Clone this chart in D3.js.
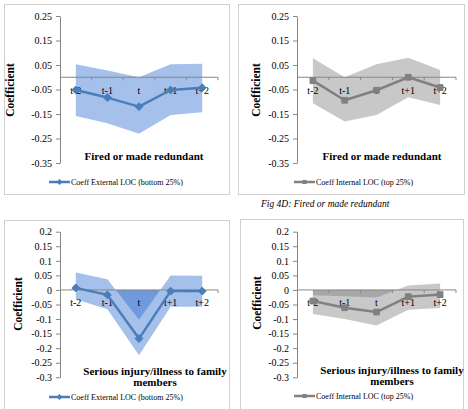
<!DOCTYPE html>
<html>
<head>
<meta charset="utf-8">
<script src="https://cdn.jsdelivr.net/npm/d3@7"></script>
<style>
  html, body { margin: 0; padding: 0; background: #ffffff; }
  svg { display: block; }
  text { font-family: "Liberation Serif", "Times New Roman", serif; fill: #000; }
</style>
</head>
<body>
<svg id="chart" width="468" height="409"></svg>
<script>
// ---------- data ----------
const categories = ["t-2", "t-1", "t", "t+1", "t+2"];

const topTicks = [0.25, 0.15, 0.05, -0.05, -0.15, -0.25, -0.35];
const topTickLabels = ["0.25", "0.15", "0.05", "-0.05", "-0.15", "-0.25", "-0.35"];
const bottomTicks = [0.2, 0.15, 0.1, 0.05, 0, -0.05, -0.1, -0.15, -0.2, -0.25, -0.3];
const bottomTickLabels = ["0.2", "0.15", "0.1", "0.05", "0", "-0.05", "-0.1", "-0.15", "-0.2", "-0.25", "-0.3"];

// Fired or made redundant — External LOC (bottom 25%)
const firedExtCoef  = [-0.052, -0.083, -0.120, -0.052, -0.043];
const firedExtUpper = [ 0.053,  0.028,  0.000,  0.053,  0.055];
const firedExtLower = [-0.158, -0.188, -0.231, -0.154, -0.143];
// Fired or made redundant — Internal LOC (top 25%)
const firedIntCoef  = [-0.014, -0.094, -0.053,  0.000, -0.042];
const firedIntUpper = [ 0.078,  0.000,  0.053,  0.080,  0.030];
const firedIntLower = [-0.106, -0.181, -0.154, -0.082, -0.113];
// Serious injury/illness to family members — External LOC
const illExtCoef  = [ 0.007, -0.017, -0.167, -0.004, -0.004];
const illExtUpper = [ 0.060,  0.037, -0.102,  0.050,  0.049];
const illExtLower = [-0.032, -0.066, -0.224, -0.058, -0.058];
// Serious injury/illness to family members — Internal LOC
const illIntCoef  = [-0.038, -0.061, -0.076, -0.023, -0.016];
const illIntUpper = [-0.018, -0.022, -0.026,  0.015,  0.022];
const illIntLower = [-0.083, -0.100, -0.122, -0.068, -0.062];

const titles = ["Fired or made redundant", "Serious injury/illness to family", "members"];
const legendExt = "Coeff External LOC (bottom 25%)";
const legendInt = "Coeff Internal LOC (top 25%)";
const caption = "Fig 4D: Fired or made redundant";
const yTitle = "Coefficient";

// ---------- drawing ----------
const svg = d3.select("#chart");

const blue = { fill: "rgb(30,98,203)", op: 0.4, line: "#4a7ebb", marker: "diamond" };
const gray = { fill: "rgb(118,118,118)", op: 0.4, line: "#808080", marker: "square" };

function panel(cfg) {
  const g = svg.append("g");
  // border
  g.append("rect")
    .attr("x", cfg.box[0] + 0.5).attr("y", cfg.box[1] + 0.5)
    .attr("width", cfg.box[2] - cfg.box[0]).attr("height", cfg.box[3] - cfg.box[1])
    .attr("fill", "none").attr("stroke", "#d0d0d0").attr("stroke-width", 1);

  const x = d3.scaleBand().domain(categories).range(cfg.xr);
  const y = d3.scaleLinear().domain(cfg.ydom).range(cfg.yr);
  const cx = c => x(c) + x.bandwidth() / 2;

  // shaded bands (two areas from zero, semi-transparent, overlap darker)
  [cfg.upper, cfg.lower].forEach(arr => {
    const area = d3.area()
      .x((d, i) => cx(categories[i]))
      .y0(y(0))
      .y1(d => y(d));
    g.append("path").datum(arr)
      .attr("d", area)
      .attr("fill", cfg.style.fill)
      .attr("fill-opacity", cfg.style.op);
  });

  // y axis
  const yAxis = d3.axisLeft(y).tickValues(cfg.ticks)
    .tickFormat((d, i) => cfg.tickLabels[i]).tickSize(4).tickSizeOuter(0);
  const ya = g.append("g").attr("transform", `translate(${cfg.xr[0]},0)`).call(yAxis);
  ya.attr("font-family", null);
  ya.select(".domain").attr("stroke", "#868686");
  ya.selectAll(".tick line").attr("stroke", "#868686");
  ya.selectAll(".tick text").attr("font-size", 10).attr("x", -8);

  // x axis at zero
  const xa = g.append("g").attr("transform", `translate(0,${y(0)})`);
  xa.append("line").attr("x1", cfg.xr[0]).attr("x2", cfg.xr[1])
    .attr("stroke", "#868686").attr("stroke-width", 1);
  const bounds = categories.map(c => x(c) + x.bandwidth());
  xa.selectAll(".xt").data(bounds).enter().append("line")
    .attr("x1", d => d).attr("x2", d => d).attr("y1", 0).attr("y2", 3)
    .attr("stroke", "#868686");
  xa.selectAll(".xl").data(categories).enter().append("text")
    .attr("x", d => cx(d)).attr("y", 16.5)
    .attr("text-anchor", "middle").attr("font-size", 10)
    .text(d => d);

  // line
  const line = d3.line().x((d, i) => cx(categories[i])).y(d => y(d));
  g.append("path").datum(cfg.coef).attr("d", line)
    .attr("fill", "none").attr("stroke", cfg.style.line).attr("stroke-width", 2.5)
    .attr("stroke-linejoin", "round");
  const sym = cfg.style.marker === "diamond"
    ? d3.symbol().type(d3.symbolDiamond2).size(40)
    : d3.symbol().type(d3.symbolSquare2).size(42);
  g.selectAll(".mk").data(cfg.coef).enter().append("path")
    .attr("d", sym)
    .attr("transform", (d, i) => `translate(${cx(categories[i])},${y(d)})`)
    .attr("fill", cfg.style.line).attr("stroke", cfg.style.line).attr("stroke-width", 1);

  // y title
  g.append("text")
    .attr("transform", `translate(${cfg.ytitle[0]},${cfg.ytitle[1]}) rotate(-90)`)
    .attr("text-anchor", "middle").attr("font-size", 11.5).attr("font-weight", "bold")
    .text(yTitle);

  // chart title
  cfg.title.forEach((t, i) => {
    g.append("text").attr("x", cfg.titlePos[0]).attr("y", cfg.titlePos[1] + i * 10.5)
      .attr("text-anchor", "middle").attr("font-size", 11).attr("font-weight", "bold")
      .text(t);
  });

  // legend
  const [lx, ly] = cfg.legend;
  g.append("line").attr("x1", lx).attr("x2", lx + 21).attr("y1", ly).attr("y2", ly)
    .attr("stroke", cfg.style.line).attr("stroke-width", 2.5);
  g.append("path").attr("d", cfg.style.marker === "diamond"
      ? d3.symbol().type(d3.symbolDiamond2).size(22)()
      : d3.symbol().type(d3.symbolSquare2).size(22)())
    .attr("transform", `translate(${lx + 10.5},${ly})`)
    .attr("fill", cfg.style.line);
  g.append("text").attr("x", lx + 22).attr("y", ly + 3)
    .attr("font-size", 8).text(cfg.legendText);
}

panel({
  box: [4, 4, 229, 194], xr: [60, 218], ydom: [-0.35, 0.25], yr: [163, 16],
  ticks: topTicks, tickLabels: topTickLabels,
  coef: firedExtCoef, upper: firedExtUpper, lower: firedExtLower, style: blue,
  ytitle: [14, 90], title: [titles[0]], titlePos: [144, 160],
  legend: [49, 182], legendText: legendExt
});
panel({
  box: [238, 4, 464, 194], xr: [297, 456], ydom: [-0.35, 0.25], yr: [163, 16],
  ticks: topTicks, tickLabels: topTickLabels,
  coef: firedIntCoef, upper: firedIntUpper, lower: firedIntLower, style: gray,
  ytitle: [260, 90], title: [titles[0]], titlePos: [382, 160],
  legend: [294, 182], legendText: legendInt
});
panel({
  box: [4, 220, 229, 420], xr: [60, 218], ydom: [-0.3, 0.2], yr: [377.3, 231.7],
  ticks: bottomTicks, tickLabels: bottomTickLabels,
  coef: illExtCoef, upper: illExtUpper, lower: illExtLower, style: blue,
  ytitle: [22, 304], title: [titles[1], titles[2]], titlePos: [155, 375],
  legend: [49, 397], legendText: legendExt
});
panel({
  box: [240, 219, 463, 420], xr: [297, 456], ydom: [-0.3, 0.2], yr: [377.3, 231.7],
  ticks: bottomTicks, tickLabels: bottomTickLabels,
  coef: illIntCoef, upper: illIntUpper, lower: illIntLower, style: gray,
  ytitle: [261, 303], title: [titles[1], titles[2]], titlePos: [392, 374],
  legend: [294, 396], legendText: legendInt
});

// caption
svg.append("text").attr("x", 261).attr("y", 207)
  .attr("font-size", 9.5).attr("font-style", "italic")
  .text(caption);
</script>
</body>
</html>
